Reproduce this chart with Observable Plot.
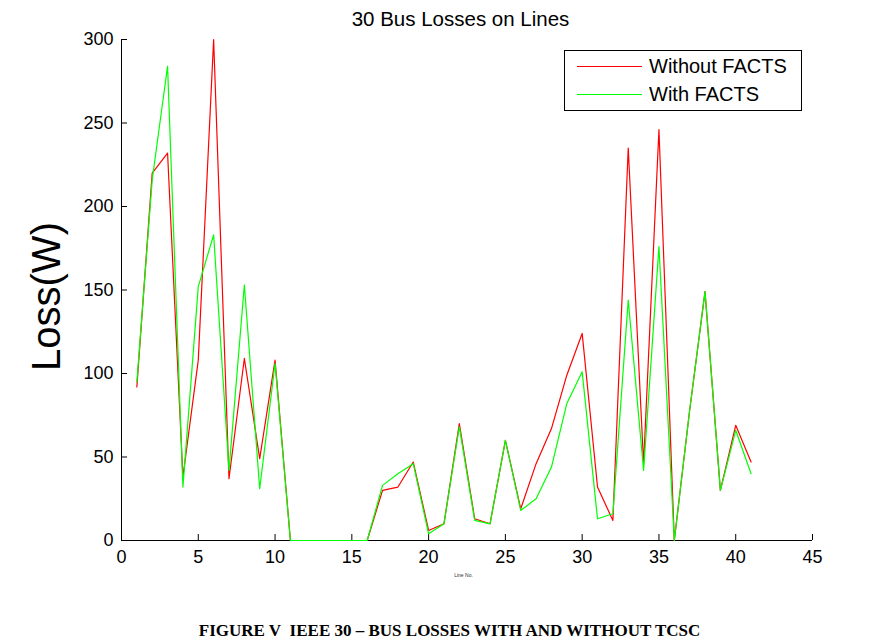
<!DOCTYPE html>
<html>
<head>
<meta charset="utf-8">
<script src="https://cdn.jsdelivr.net/npm/d3@7"></script>
<script src="https://cdn.jsdelivr.net/npm/@observablehq/plot@0.6"></script>
<style>
  html, body { margin: 0; padding: 0; background: #fff; }
  #wrap { position: relative; width: 895px; height: 642px; font-family: "Liberation Sans", Arial, sans-serif; }
  #legend { position: absolute; left: 564px; top: 50px; width: 236px; height: 59px; border: 1px solid #000; background: #fff; box-sizing: content-box; }
  .row { position: absolute; left: 0; height: 24px; }
  .sw { position: absolute; left: 12px; top: 12px; width: 65px; height: 1px; }
  .lab { position: absolute; left: 84px; top: 2px; font-size: 20px; line-height: 20px; white-space: nowrap; color: #000; }
</style>
</head>
<body>
<div id="wrap"></div>
<script>
const lineNo = d3.range(1, 42);
const withoutFacts = [92, 220, 232, 38, 108, 300, 37, 109, 49, 108, 0, 0, 0, 0, 0, 0, 30, 32, 47, 6, 10, 70, 13, 10, 60, 19, 46, 67, 99, 124, 32, 12, 235, 46, 246, 0, 78, 149, 30, 69, 47];
const withFacts = [95, 216, 284, 32, 152, 183, 42, 153, 31, 106, 0, 0, 0, 0, 0, 0, 33, 40, 46, 4, 10, 68, 12, 10, 60, 18, 25, 44, 82, 101, 13, 16, 144, 42, 176, 0, 78, 149, 30, 66, 40];
const seriesNames = ["Without FACTS", "With FACTS"];
const seriesColors = ["#ff0000", "#00ff00"];
const xTicks = [0, 5, 10, 15, 20, 25, 30, 35, 40, 45];
const yTicks = [0, 50, 100, 150, 200, 250, 300];
const titleText = "30 Bus Losses on Lines";
const yLabel = "Loss(W)";
const xLabel = "Line No.";
const captionText = "FIGURE V\u00a0 IEEE 30 \u2013 BUS LOSSES WITH AND WITHOUT TCSC";

const rowsA = lineNo.map((x, i) => ({x, y: withoutFacts[i]}));
const rowsB = lineNo.map((x, i) => ({x, y: withFacts[i]}));

const chart = Plot.plot({
  width: 895,
  height: 642,
  marginLeft: 121,
  marginRight: 83,
  marginTop: 39,
  marginBottom: 102,
  style: {fontFamily: "'Liberation Sans', Arial, sans-serif", background: "#fff", color: "#000"},
  x: {domain: [0, 45], ticks: xTicks},
  y: {domain: [0, 300], ticks: yTicks},
  marks: [
    Plot.ruleX([0], {stroke: "#000", strokeWidth: 1}),
    Plot.ruleY([0], {stroke: "#000", strokeWidth: 1}),
    Plot.axisX({ticks: xTicks, tickSize: -6, tickPadding: 16, fontSize: 18, tickFormat: d => String(d), label: null, stroke: "#000", strokeOpacity: 1}),
    Plot.axisY({ticks: yTicks, tickSize: -6, tickPadding: 14, fontSize: 18, tickFormat: d => String(d), label: null, stroke: "#000", strokeOpacity: 1}),
    Plot.line(rowsA, {x: "x", y: "y", stroke: seriesColors[0], strokeWidth: 1.2}),
    Plot.line(rowsB, {x: "x", y: "y", stroke: seriesColors[1], strokeWidth: 1.2}),
    Plot.text([titleText], {frameAnchor: "top", lineAnchor: "bottom", textAnchor: "middle", dx: -6.5, dy: -13.5, fontSize: 20.5, fill: "#000"}),
    Plot.text([yLabel], {frameAnchor: "left", textAnchor: "middle", rotate: -90, dx: -74, dy: 6.5, fontSize: 40, fill: "#000"}),
    Plot.text([xLabel], {frameAnchor: "bottom", lineAnchor: "bottom", textAnchor: "middle", dx: -3.5, dy: 36, fontSize: 5, fill: "#333"}),
    Plot.text([captionText], {frameAnchor: "bottom", lineAnchor: "bottom", textAnchor: "middle", dx: -17.5, dy: 95, fontSize: 17, fontWeight: "bold", fontFamily: "'Liberation Serif', 'Times New Roman', serif", fill: "#000"})
  ]
});

const wrap = document.getElementById("wrap");
wrap.appendChild(chart);

const legend = document.createElement("div");
legend.id = "legend";
seriesNames.forEach((name, i) => {
  const row = document.createElement("div");
  row.className = "row";
  row.style.top = (i === 0 ? 3 : 31) + "px";
  row.style.width = "236px";
  const sw = document.createElement("div");
  sw.className = "sw";
  sw.style.background = seriesColors[i];
  const lab = document.createElement("div");
  lab.className = "lab";
  lab.textContent = name;
  row.appendChild(sw);
  row.appendChild(lab);
  legend.appendChild(row);
});
wrap.appendChild(legend);
</script>
</body>
</html>
